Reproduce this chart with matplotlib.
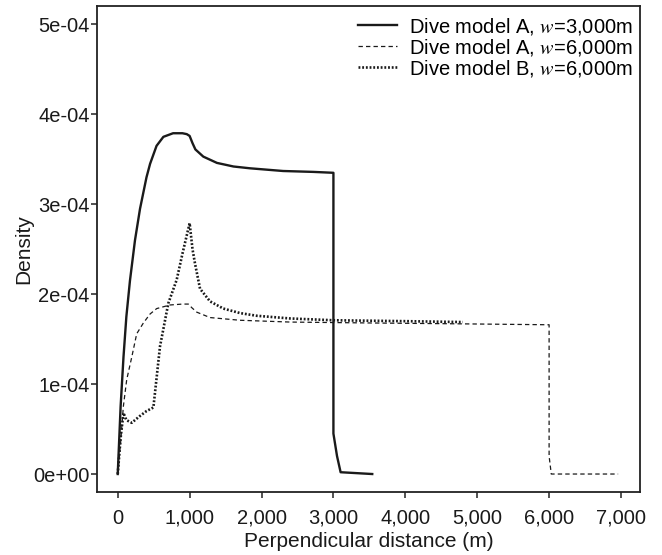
import matplotlib.pyplot as plt
from matplotlib.ticker import FixedLocator

plt.rcParams['font.family'] = ['Liberation Sans', 'DejaVu Sans']
plt.rcParams['mathtext.fontset'] = 'stix'

# Dive model A, w = 3000 m (density in units of 1e-4)
a3_x = [0, 40, 80, 120, 170, 240, 310, 400, 450, 540, 635, 770, 900, 960, 1000,
        1040, 1080, 1190, 1380, 1610, 1840, 2300, 2720, 3000, 3000, 3050, 3100, 3540]
a3_y = [0.0, 0.75, 1.3, 1.75, 2.15, 2.6, 2.95, 3.3, 3.45, 3.65, 3.75, 3.79, 3.79, 3.78, 3.76,
        3.68, 3.61, 3.53, 3.46, 3.42, 3.40, 3.37, 3.36, 3.35, 0.45, 0.2, 0.02, 0.0]

# Dive model A, w = 6000 m
a6_x = [0, 40, 78, 125, 195, 264, 357, 450, 542, 727, 900, 982, 1030, 1100, 1284,
        1700, 2400, 3500, 4800, 6000, 6000, 6030, 6960]
a6_y = [0.0, 0.35, 0.75, 1.05, 1.30, 1.56, 1.68, 1.78, 1.84, 1.88, 1.89, 1.89, 1.85, 1.80, 1.74,
        1.71, 1.69, 1.68, 1.67, 1.66, 0.2, 0.0, 0.0]

# Dive model B, w = 6000 m
b6_x = [0, 40, 80, 120, 195, 300, 400, 496, 588, 704, 820, 900, 1000, 1040, 1075,
        1145, 1284, 1469, 1701, 1933, 2397, 3000, 4000, 4800]
b6_y = [0.0, 0.4, 0.68, 0.6, 0.57, 0.64, 0.70, 0.74, 1.42, 1.90, 2.16, 2.45, 2.79, 2.5, 2.34,
        2.06, 1.92, 1.84, 1.79, 1.76, 1.73, 1.71, 1.70, 1.69]

x_ticks = [0, 1000, 2000, 3000, 4000, 5000, 6000, 7000]
y_ticks = [0, 1e-4, 2e-4, 3e-4, 4e-4, 5e-4]
y_labels = ['0e+00', '1e-04', '2e-04', '3e-04', '4e-04', '5e-04']

fig = plt.figure(figsize=(6.62, 5.55), dpi=100)
ax = fig.add_axes([0.147, 0.1135, 0.8205, 0.8765])

ax.plot(a3_x, [v * 1e-4 for v in a3_y], color='#1a1a1a', lw=1.7, ls='-',
        label='Dive model A, $w$=3,000m')
ax.plot(a6_x, [v * 1e-4 for v in a6_y], color='#1a1a1a', lw=0.9, ls=(0, (3.5, 2.5)),
        label='Dive model A, $w$=6,000m')
ax.plot(b6_x, [v * 1e-4 for v in b6_y], color='#1a1a1a', lw=1.9, ls=(0, (0.7, 0.7)),
        label='Dive model B, $w$=6,000m')

ax.set_xlim(-284, 7271)
ax.set_ylim(-0.2e-4, 5.21e-4)
ax.xaxis.set_major_locator(FixedLocator(x_ticks))
ax.set_xticklabels([f'{t:,}' for t in x_ticks])
ax.yaxis.set_major_locator(FixedLocator(y_ticks))
ax.set_yticklabels(y_labels)

for s in ax.spines.values():
    s.set_linewidth(1.3)
    s.set_color('#222222')
ax.tick_params(direction='out', length=4, width=1.1, labelsize=14.5, colors='#222222',
               labelcolor='#1a1a1a')
ax.tick_params(axis='x', pad=8)
ax.tick_params(axis='y', pad=1.5)

ax.set_xlabel('Perpendicular distance (m)', fontsize=15, color='#1a1a1a', labelpad=3)
ax.set_ylabel('Density', fontsize=15, color='#1a1a1a', labelpad=0)

ax.legend(loc='upper right', frameon=False, fontsize=14.5, handlelength=1.9,
          handletextpad=0.6, labelspacing=0.0, borderaxespad=0.0,
          bbox_to_anchor=(1.0, 0.995))

fig.savefig('out.png', dpi=100)
